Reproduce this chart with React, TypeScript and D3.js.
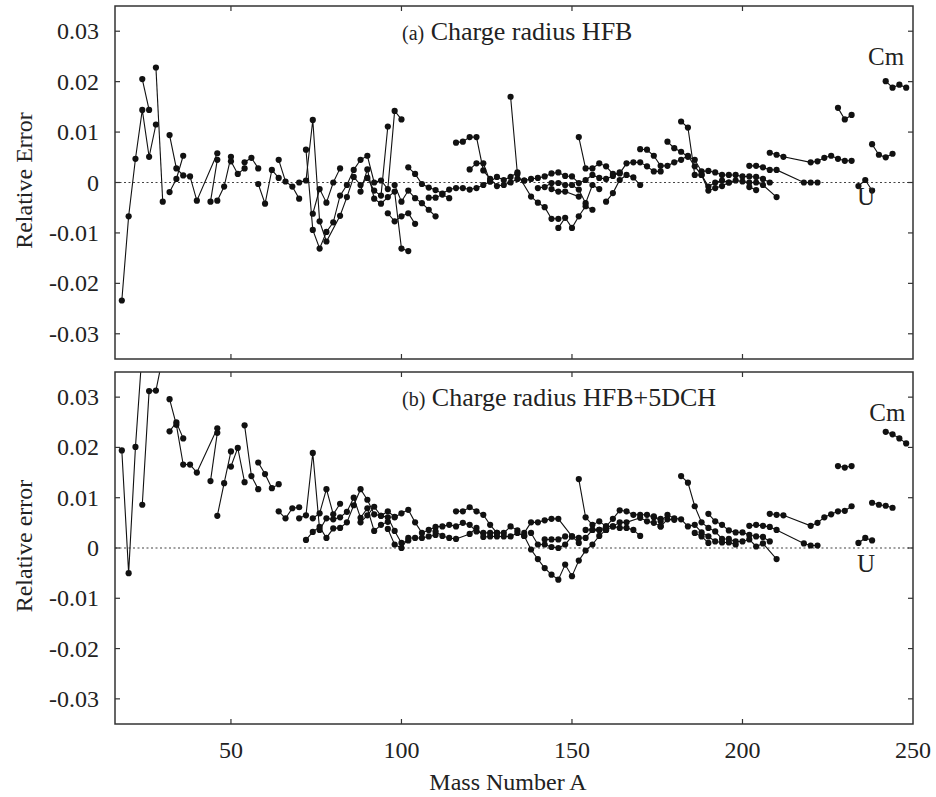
import React, { useEffect, useRef } from 'react';
import * as d3 from 'd3';

type Pt = [number, number];

// axis ticks
const xTicks = [50, 100, 150, 200, 250];
const yTicks = [-0.03, -0.02, -0.01, 0, 0.01, 0.02, 0.03];

// (a) HFB — isotope chains, [mass number, relative error]
const hfbLight: Pt[][] = [
  [[18, -0.0234], [20, -0.0067], [22, 0.0047], [24, 0.0144], [26, 0.0051], [28, 0.0115]],
  [[24, 0.0205], [26, 0.0144]],
  [[28, 0.0228], [30, -0.0038]],
  [[32, 0.0094], [34, 0.0028], [36, 0.0014], [38, 0.0012], [40, -0.0036], [46, 0.0058]],
  [[32, -0.0019], [34, 0.0007], [36, 0.0053]],
  [[44, -0.0038], [46, 0.0045]],
  [[46, -0.0036], [48, -0.0008], [50, 0.0051]],
  [[50, 0.0042], [52, 0.0017], [54, 0.0028]],
  [[54, 0.004], [56, 0.0049], [58, 0.0028]],
  [[58, -0.0003], [60, -0.0042], [62, 0.0025], [64, 0.0009]],
  [[64, 0.0045], [66, 0.0002], [68, -0.0008], [70, -0.0032]],
];

const hfbMid: Pt[][] = [
  [[70, 0], [72, 0.0004], [74, 0.0124], [76, -0.0077], [78, -0.0117], [82, -0.0066], [84, -0.0029], [86, 0.0011], [88, -0.0005], [90, 0.0009], [92, -0.0016], [94, -0.0026], [96, 0.0111]],
  [[72, 0.0065], [74, -0.0094], [76, -0.0131], [78, -0.0098], [80, -0.0079], [82, -0.0026], [84, -0.0005], [86, 0.0025], [88, 0.0045], [90, 0.0053], [92, 0], [94, 0.0004], [96, -0.0013], [98, 0.0142], [100, 0.0125]],
  [[74, -0.0062], [76, -0.0013], [78, -0.004], [80, 0], [82, 0.0028]],
  [[88, -0.0018], [90, 0.0026], [92, -0.0032], [94, -0.0042], [96, -0.0029], [98, -0.0018], [100, -0.0131], [102, -0.0136]],
  [[96, -0.0061], [98, -0.0077], [100, -0.0067], [102, -0.0061], [104, -0.0082]],
  [[98, -0.0005], [100, -0.0038], [102, -0.0016], [104, -0.0031], [106, -0.0041], [108, -0.0054], [110, -0.0067]],
  [[102, 0.003], [104, 0.0017], [106, -0.0003], [108, -0.001], [110, -0.0015], [112, -0.0022], [114, -0.0014], [116, -0.0011], [118, -0.0011], [120, -0.0014], [122, -0.0011], [124, -0.0005], [126, 0.0002], [128, 0.0011], [130, 0.0005], [132, 0.0011], [134, 0.002]],
  [[108, -0.003], [110, -0.003], [112, -0.0024], [114, -0.0031]],
  [[116, 0.0079], [118, 0.0081], [120, 0.009], [122, 0.009], [124, 0.0024], [126, 0.0007], [128, -0.0007], [130, -0.0005], [132, 0], [134, 0.0007], [136, 0.0004]],
  [[120, 0.0026], [122, 0.0038], [124, 0.0038], [126, 0.0002]],
  [[132, 0.017], [134, 0.0017], [138, -0.0028], [140, -0.004], [142, -0.0049], [144, -0.0072], [146, -0.0072]],
  [[146, -0.009], [148, -0.007], [150, -0.009], [152, -0.0067], [154, -0.0047], [156, -0.0054]],
  [[136, 0.0004], [138, 0.0007], [140, 0.0009], [142, 0.0012], [144, 0.0018], [146, 0.002], [148, 0.0013], [150, 0.0012], [152, -0.0001], [154, 0.0005], [156, 0.0015], [158, 0.0009], [160, 0.0007], [162, 0.0013], [164, 0.002]],
  [[140, -0.0011], [142, -0.0009], [144, -0.0001], [146, -0.0001], [148, -0.0005], [150, -0.0005], [152, -0.0014], [154, -0.0041], [156, -0.0005], [158, -0.0013]],
  [[144, -0.0013], [146, -0.0018], [148, -0.0018], [152, -0.0028]],
  [[152, 0.009], [154, 0.0028], [156, 0.0028], [158, 0.0038], [160, 0.0032], [162, 0.0017], [164, 0.0018], [166, 0.0038], [168, 0.004], [170, 0.004], [172, 0.0032], [174, 0.0022], [176, 0.0022]],
  [[160, -0.0038], [162, -0.0021], [164, 0.0005], [166, 0.0015], [168, 0.001], [170, -0.0005]],
];

const hfbHeavy: Pt[][] = [
  [[170, 0.0066], [172, 0.0065], [174, 0.0053], [176, 0.0033], [178, 0.0033], [180, 0.004], [182, 0.0045], [184, 0.0053], [186, 0.0032], [188, 0.0015], [190, -0.0008], [192, 0], [194, 0.0004], [196, 0], [198, 0.0004], [200, 0.0002], [202, 0], [204, 0], [206, -0.0005], [210, -0.0029]],
  [[178, 0.0081], [180, 0.0068], [182, 0.0061], [184, 0.0051], [186, 0.0045], [188, 0.0022], [190, 0.0023], [192, 0.002], [194, 0.0015], [196, 0.0015], [198, 0.0015], [200, 0.0012], [202, 0.0012], [204, 0.0011], [206, 0.0007], [208, 0]],
  [[182, 0.0121], [184, 0.0109], [186, 0.0015], [188, 0.0015], [190, -0.0016], [192, -0.0011], [194, -0.0007], [196, 0]],
  [[202, -0.0009], [204, -0.0015]],
  [[202, 0.0033], [204, 0.0033], [206, 0.003], [208, 0.0025], [210, 0.0025], [218, 0], [220, 0], [222, 0]],
  [[208, 0.0059], [210, 0.0055], [212, 0.0051], [220, 0.004], [222, 0.0042], [224, 0.0049], [226, 0.0053], [228, 0.0047], [230, 0.0043], [232, 0.0043]],
  [[228, 0.0148], [230, 0.0125], [232, 0.0134]],
  [[234, -0.0007], [236, 0.0005], [238, -0.0016]],
  [[238, 0.0076], [240, 0.0055], [242, 0.005], [244, 0.0057]],
  [[242, 0.0201], [244, 0.0188], [246, 0.0194], [248, 0.0188]],
];

// (b) HFB+5DCH
const dchLight: Pt[][] = [
  [[18, 0.0194], [20, -0.005], [22, 0.0201], [24, 0.0395]],
  [[24, 0.0086], [26, 0.0312], [28, 0.0313], [30, 0.038]],
  [[32, 0.0296], [34, 0.0245], [36, 0.0166], [38, 0.0166], [40, 0.015], [46, 0.0238]],
  [[32, 0.0232], [34, 0.025], [36, 0.0218]],
  [[44, 0.0133], [46, 0.0229]],
  [[46, 0.0064], [48, 0.0129], [50, 0.0192]],
  [[50, 0.0162], [52, 0.0199], [54, 0.0131]],
  [[54, 0.0244], [56, 0.0143], [58, 0.0117]],
  [[58, 0.017], [60, 0.0147], [62, 0.0119], [64, 0.0127]],
  [[64, 0.0073], [66, 0.0059], [68, 0.0079], [70, 0.0081]],
];

const dchMid: Pt[][] = [
  [[70, 0.0059], [72, 0.0065], [74, 0.0189], [76, 0.0036], [78, 0.0059], [80, 0.0057], [82, 0.0061], [84, 0.0072], [86, 0.01], [88, 0.006], [90, 0.0079], [92, 0.0034], [94, 0.0046], [96, 0.0052]],
  [[72, 0.0016], [74, 0.0032], [76, 0.0042], [78, 0.002], [80, 0.0039], [82, 0.004], [84, 0.0051], [86, 0.0085], [88, 0.0117], [90, 0.0096], [92, 0.0067], [94, 0.0064], [96, 0.0073], [98, 0.0062]],
  [[74, 0.0059], [76, 0.0069], [78, 0.0117], [80, 0.0067], [82, 0.0088]],
  [[88, 0.0051], [90, 0.0065], [92, 0.0082], [94, 0.0064], [96, 0.0061], [98, 0.0034], [100, 0.001], [102, 0.0015]],
  [[96, 0.0038], [98, 0.0007], [100, 0], [102, 0.002], [104, 0.002], [106, 0.002], [108, 0.0023], [110, 0.0026]],
  [[98, 0.0061], [100, 0.0069], [102, 0.0076], [104, 0.0051], [106, 0.003], [108, 0.0036], [110, 0.0042], [112, 0.0043], [114, 0.0046], [116, 0.0043], [118, 0.005], [120, 0.0046], [122, 0.0033], [124, 0.003], [126, 0.003], [128, 0.003], [130, 0.003], [132, 0.0043], [134, 0.0035]],
  [[110, 0.0033], [112, 0.0024], [114, 0.002], [116, 0.0018], [120, 0.0028], [122, 0.004], [124, 0.0022], [126, 0.0023], [128, 0.0023], [130, 0.0023], [132, 0.0023], [134, 0.003], [136, 0.0024]],
  [[116, 0.0073], [118, 0.0073], [120, 0.0081], [122, 0.0073], [124, 0.0066], [126, 0.0046], [128, 0.003]],
  [[136, 0.003], [138, 0.0051], [140, 0.0051], [142, 0.0055], [144, 0.0058], [146, 0.0058], [150, 0.0023], [152, 0.001]],
  [[136, 0.0024], [138, -0.0003], [140, -0.0022], [142, -0.004], [144, -0.0053], [146, -0.0063], [148, -0.0033], [150, -0.0056], [152, -0.0025], [154, -0.0005], [156, 0.0007], [158, 0.0024], [160, 0.0036]],
  [[138, 0.003], [140, 0.0007], [142, 0.0007], [144, 0.0002], [146, 0], [148, 0.0007], [150, 0.0023], [152, 0.002], [154, 0.002], [156, 0.0036], [158, 0.0036], [160, 0.0043], [162, 0.0043], [164, 0.004], [166, 0.004], [168, 0.0036], [170, 0.0024]],
  [[142, 0.0017], [144, 0.0017], [146, 0.0017], [148, 0.0023]],
  [[152, 0.0137], [154, 0.0061], [156, 0.0046], [158, 0.0053], [160, 0.0043], [162, 0.0058], [164, 0.0075], [166, 0.0073], [168, 0.0066], [170, 0.0066], [172, 0.0066], [174, 0.0061], [176, 0.0058]],
  [[154, 0.0036], [156, 0.0036], [158, 0.0036], [160, 0.0036], [162, 0.0043], [164, 0.0051], [166, 0.0051], [170, 0.006], [172, 0.0053], [174, 0.005], [176, 0.0043]],
];

const dchHeavy: Pt[][] = [
  [[174, 0.0063], [176, 0.0053], [178, 0.0066], [180, 0.0059], [182, 0.0057], [184, 0.0043], [186, 0.0046], [188, 0.0031], [190, 0.0023], [192, 0.0013], [194, 0.0011], [196, 0.0011], [198, 0.0007]],
  [[176, 0.0043], [178, 0.0057], [180, 0.0056]],
  [[182, 0.0143], [184, 0.013], [186, 0.0083], [188, 0.0051], [190, 0.004], [192, 0.0033], [194, 0.0018], [196, 0.0018], [198, 0.0013], [200, 0.0013], [202, 0.0017], [204, 0.0003], [206, 0.0009], [210, -0.0022]],
  [[186, 0.003], [188, 0.0023], [190, 0.001]],
  [[190, 0.0068], [192, 0.0053], [194, 0.0046], [196, 0.0035], [198, 0.0031], [200, 0.0031], [202, 0.0026], [204, 0.0023], [206, 0.0022], [208, 0.0013]],
  [[202, 0.0044], [204, 0.0046], [206, 0.0044], [208, 0.0042], [210, 0.0036], [218, 0.0009], [220, 0.0005], [222, 0.0005]],
  [[208, 0.0068], [210, 0.0066], [212, 0.0065], [220, 0.0044], [222, 0.005], [224, 0.0061], [226, 0.0067], [228, 0.0073], [230, 0.0074], [232, 0.0083]],
  [[228, 0.0163], [230, 0.016], [232, 0.0163]],
  [[234, 0.001], [236, 0.002], [238, 0.0015]],
  [[238, 0.009], [240, 0.0086], [242, 0.0084], [244, 0.008]],
  [[242, 0.0231], [244, 0.0226], [246, 0.0218], [248, 0.0208]],
];

const FONT = "'Liberation Serif', Tinos, 'Times New Roman', 'DejaVu Serif', serif";

export default function App() {
  const ref = useRef<SVGSVGElement>(null);

  useEffect(() => {
    const svg = d3.select(ref.current);
    svg.selectAll('*').remove();

    const left = 115;
    const right = 913;
    const x = d3.scaleLinear().domain([16, 250]).range([left, right]);

    const panels = [
      { id: 'a', top: 6, bottom: 359, chains: [...hfbLight, ...hfbMid, ...hfbHeavy], tag: '(a)', title: ' Charge radius HFB', ylabel: 'Relative Error', bottomAxis: false, cm: [236.8, 0.0233], u: [233.6, -0.0044] },
      { id: 'b', top: 372, bottom: 724, chains: [...dchLight, ...dchMid, ...dchHeavy], tag: '(b)', title: ' Charge radius HFB+5DCH', ylabel: 'Relative error', bottomAxis: true, cm: [237.2, 0.0252], u: [233.6, -0.0047] },
    ];

    const txt = (sel: any, size: number) =>
      sel.style('font-family', FONT).style('font-size', `${size}px`).attr('fill', '#222');

    panels.forEach((p) => {
      const y = d3.scaleLinear().domain([-0.035, 0.035]).range([p.bottom, p.top]);
      const g = svg.append('g');

      g.append('clipPath')
        .attr('id', `clip-${p.id}`)
        .append('rect')
        .attr('x', left)
        .attr('y', p.top)
        .attr('width', right - left)
        .attr('height', p.bottom - p.top);

      const plot = g.append('g').attr('clip-path', `url(#clip-${p.id})`);

      // zero reference line
      plot.append('line')
        .attr('x1', left)
        .attr('x2', right)
        .attr('y1', y(0))
        .attr('y2', y(0))
        .attr('stroke', '#444')
        .attr('stroke-width', 1.1)
        .attr('stroke-dasharray', '2,2.5');

      const line = d3.line<Pt>()
        .x((d) => x(d[0]))
        .y((d) => y(d[1]));

      p.chains.forEach((c) => {
        plot.append('path')
          .datum(c)
          .attr('fill', 'none')
          .attr('stroke', '#111')
          .attr('stroke-width', 1.1)
          .attr('d', line);
        plot.selectAll(null)
          .data(c)
          .enter()
          .append('circle')
          .attr('cx', (d) => x(d[0]))
          .attr('cy', (d) => y(d[1]))
          .attr('r', 3.1)
          .attr('fill', '#111');
      });

      // frame
      g.append('rect')
        .attr('x', left)
        .attr('y', p.top)
        .attr('width', right - left)
        .attr('height', p.bottom - p.top)
        .attr('fill', 'none')
        .attr('stroke', '#333')
        .attr('stroke-width', 1.5);

      // ticks (inward, all four sides)
      yTicks.forEach((t) => {
        g.append('line').attr('x1', left).attr('x2', left + 5).attr('y1', y(t)).attr('y2', y(t)).attr('stroke', '#333').attr('stroke-width', 1.2);
        g.append('line').attr('x1', right - 5).attr('x2', right).attr('y1', y(t)).attr('y2', y(t)).attr('stroke', '#333').attr('stroke-width', 1.2);
        txt(g.append('text'), 24)
          .attr('x', left - 16)
          .attr('y', y(t) + 8)
          .attr('text-anchor', 'end')
          .text(t === 0 ? '0' : d3.format('.2f')(t).replace('−', '-'));
      });
      xTicks.filter((t) => t < 250).forEach((t) => {
        g.append('line').attr('x1', x(t)).attr('x2', x(t)).attr('y1', p.top).attr('y2', p.top + 5).attr('stroke', '#333').attr('stroke-width', 1.2);
        g.append('line').attr('x1', x(t)).attr('x2', x(t)).attr('y1', p.bottom - 5).attr('y2', p.bottom).attr('stroke', '#333').attr('stroke-width', 1.2);
      });

      if (p.bottomAxis) {
        xTicks.forEach((t) => {
          txt(g.append('text'), 24)
            .attr('x', x(t))
            .attr('y', p.bottom + 34)
            .attr('text-anchor', 'middle')
            .text(t);
        });
        txt(g.append('text'), 24)
          .attr('x', 508)
          .attr('y', p.bottom + 66)
          .attr('text-anchor', 'middle')
          .text('Mass Number A');
      }

      // y label
      txt(g.append('text'), 24)
        .attr('transform', `translate(32,${y(0) - 2}) rotate(-90)`)
        .attr('text-anchor', 'middle')
        .text(p.ylabel);

      // panel title
      const title = txt(g.append('text'), 26)
        .attr('x', 402)
        .attr('y', p.top + 34);
      title.append('tspan').style('font-size', '20px').text(p.tag);
      title.append('tspan').style('font-size', '26px').text(p.title);

      // element labels
      txt(g.append('text'), 25)
        .attr('x', x(p.cm[0]))
        .attr('y', y(p.cm[1]))
        .text('Cm');
      txt(g.append('text'), 25)
        .attr('x', x(p.u[0]))
        .attr('y', y(p.u[1]))
        .text('U');
    });
  }, []);

  return (
    <svg
      ref={ref}
      width={936}
      height={797}
      style={{ position: 'absolute', left: 0, top: 0, background: '#fff' }}
    />
  );
}
